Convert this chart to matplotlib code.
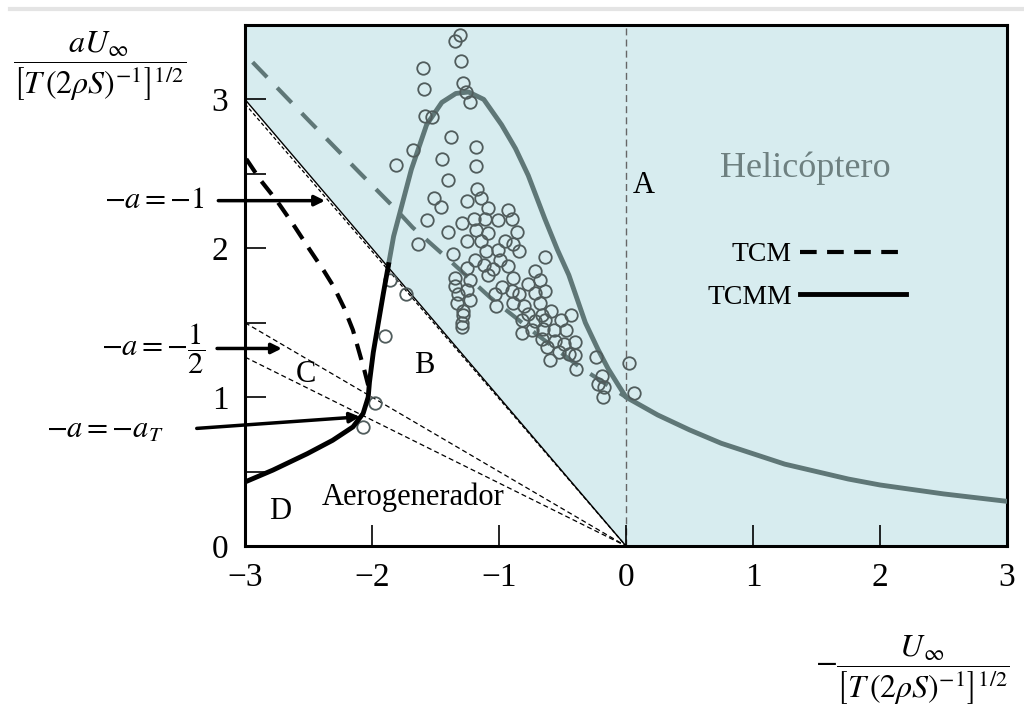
import matplotlib.pyplot as plt
from matplotlib.lines import Line2D
import numpy as np

###SETTINGS###
plt.rcParams['font.family'] = ['Liberation Serif', 'DejaVu Serif']
plt.rcParams['mathtext.fontset'] = 'stix'

###DATA###
# momentum-theory curve (grey): descent branch and climb branch
x_teo = [-1.87, -1.83, -1.78, -1.69, -1.57, -1.45, -1.34, -1.24, -1.12, -0.98,
         -0.87, -0.77, -0.64, -0.54, -0.45, -0.32, -0.22, -0.14, -0.06, 0.0,
         0.25, 0.5, 0.75, 1.0, 1.25, 1.5, 1.75, 2.0, 2.5, 3.0]
y_teo = [1.89, 2.08, 2.24, 2.53, 2.83, 2.98, 3.04, 3.05, 3.00, 2.83,
         2.67, 2.49, 2.20, 1.99, 1.82, 1.50, 1.32, 1.19, 1.08, 1.00,
         0.88, 0.78, 0.69, 0.62, 0.55, 0.50, 0.45, 0.41, 0.35, 0.30]

# grey dashed fit through the measurements
x_fit = [-2.94, -2.5, -2.1, -1.81, -1.68, -1.39, -1.07, -0.7, -0.36, 0.0]
y_fit = [3.25, 2.86, 2.51, 2.26, 2.14, 1.92, 1.67, 1.42, 1.20, 1.00]

# TCM (dashed) and TCMM (solid)
x_tcm = [-2.99, -2.88, -2.75, -2.62, -2.49, -2.38, -2.30, -2.22, -2.15, -2.10, -2.06, -2.03]
y_tcm = [2.60, 2.46, 2.32, 2.16, 1.99, 1.85, 1.74, 1.60, 1.45, 1.30, 1.18, 1.08]
x_tcmm = [-3.0, -2.78, -2.51, -2.31, -2.15, -2.07, -2.03, -2.02, -1.99, -1.95, -1.91, -1.87]
y_tcmm = [0.43, 0.51, 0.62, 0.71, 0.80, 0.89, 1.00, 1.10, 1.30, 1.50, 1.70, 1.89]

# measurements
x_exp = [-1.31, -1.35, -1.30, -1.60, -1.59, -1.28, -1.26, -1.23, -1.58, -1.53,
         -1.38, -1.18, -1.68, -1.45, -1.18, -1.81, -1.40, -1.17, -1.51, -1.14,
         -1.25, -1.46, -1.09, -0.93, -1.57, -1.20, -1.11, -0.90, -1.01, -1.29,
         -1.40, -1.25, -1.18, -1.09, -0.95, -0.86, -0.89, -1.14, -1.64, -0.84,
         -1.10, -1.01, -1.19, -1.36, -0.99, -0.64, -1.12, -1.25, -0.93, -1.05,
         -0.72, -1.09, -0.89, -1.35, -1.23, -0.77, -0.68, -0.98, -1.35, -1.25,
         -0.90, -0.64, -0.84, -1.03, -0.72, -1.32, -1.23, -0.68, -0.89, -1.33,
         -1.02, -0.80, -0.59, -1.28, -0.77, -0.43, -0.66, -1.28, -0.82, -0.51,
         -0.72, -1.29, -0.64, -1.29, -0.82, -0.74, -0.65, -0.57, -0.47, -0.40,
         -0.49, -0.56, -0.62, -0.66, -0.53, -0.45, -0.40, -0.60, -0.24, -0.39,
         0.02, -0.19, -0.22, -0.17, -0.18, 0.06, -1.90, -1.98, -2.07, -1.86,
         -1.73]
y_exp = [3.43, 3.39, 3.26, 3.21, 3.07, 3.11, 3.05, 2.98, 2.89, 2.88,
         2.75, 2.68, 2.66, 2.60, 2.55, 2.56, 2.46, 2.40, 2.34, 2.34,
         2.32, 2.28, 2.27, 2.26, 2.19, 2.20, 2.20, 2.20, 2.19, 2.17,
         2.11, 2.05, 2.12, 2.10, 2.05, 2.11, 2.03, 2.05, 2.03, 1.98,
         1.98, 1.99, 1.92, 1.96, 1.92, 1.94, 1.89, 1.87, 1.88, 1.86,
         1.85, 1.82, 1.80, 1.80, 1.79, 1.76, 1.79, 1.74, 1.75, 1.72,
         1.71, 1.71, 1.69, 1.69, 1.70, 1.69, 1.65, 1.63, 1.63, 1.63,
         1.61, 1.61, 1.58, 1.58, 1.56, 1.55, 1.55, 1.55, 1.52, 1.52,
         1.51, 1.50, 1.52, 1.47, 1.43, 1.45, 1.46, 1.45, 1.45, 1.37,
         1.36, 1.38, 1.34, 1.39, 1.30, 1.29, 1.28, 1.25, 1.27, 1.19,
         1.23, 1.14, 1.09, 1.07, 1.00, 1.03, 1.41, 0.96, 0.80, 1.79,
         1.69]

# straight rays -a = -1, -1/2 and -a_T through the origin
x_ray = np.array([-3.0, 0.0])
slopes = [1.0, 0.5, 0.423]

###PLOT###
fig = plt.figure(figsize=(10.24, 7.2), dpi=100)
ax = fig.add_axes([245/1024, 1-546/720, 762/1024, 521/720])
ax.set_xlim(-3, 3)
ax.set_ylim(0, 3.5)

azul = '#d7ecef'
gris = '#5f7777'
ax.fill_between(x_ray, -x_ray, 3.5, color=azul, lw=0, zorder=0)
ax.axvspan(0, 3, color=azul, lw=0, zorder=0)

ax.plot(x_ray, -slopes[0]*x_ray, color='k', lw=1.0, zorder=2)
ax.plot(x_ray, -0.99*slopes[0]*x_ray, color='k', lw=0.9, ls=(0, (3, 2)), zorder=2)
ax.plot(x_ray, -slopes[1]*x_ray, color='k', lw=0.9, ls=(0, (4, 2.5)), zorder=2)
ax.plot(x_ray, -slopes[2]*x_ray, color='k', lw=0.9, ls=(0, (4, 2.5)), zorder=2)
ax.axvline(0, color='#666666', lw=1.0, ls=(0, (5, 3)), zorder=1)

ax.plot(x_fit, y_fit, color=gris, lw=3, ls=(0, (5, 3.5)), zorder=3)
ax.plot(x_teo, y_teo, color=gris, lw=3.5, zorder=4)
ax.plot(x_exp, y_exp, 'o', ms=9, mfc='none', mec='#505c5c', mew=1.3, zorder=5)
ax.plot(x_tcm, y_tcm, color='k', lw=3, ls=(0, (4, 2.5)), zorder=6)
ax.plot(x_tcmm, y_tcmm, color='k', lw=3.5, zorder=6)

# arrows for the rays
flecha = dict(arrowstyle='-|>', color='k', lw=2.5, mutation_scale=15, shrinkA=0, shrinkB=0)
ax.annotate('', xy=(-2.37, 2.32), xytext=(-3.21, 2.32), arrowprops=flecha, annotation_clip=False)
ax.annotate('', xy=(-2.71, 1.327), xytext=(-3.22, 1.327), arrowprops=flecha, annotation_clip=False)
ax.annotate('', xy=(-2.094, 0.868), xytext=(-3.38, 0.79), arrowprops=flecha, annotation_clip=False)
ax.text(-3.315, 2.32, r'$-a=-1$', fontsize=22, ha='right', va='center', clip_on=False)
ax.text(-3.315, 1.327, r'$-a=-\dfrac{1}{2}$', fontsize=22, ha='right', va='center', clip_on=False)
ax.text(-3.64, 0.78, r'$-a=-a_T$', fontsize=22, ha='right', va='center', clip_on=False)

# region labels
ax.text(0.14, 2.42, 'A', fontsize=22, ha='center', va='center')
ax.text(-1.59, 1.21, 'B', fontsize=22, ha='center', va='center')
ax.text(-2.52, 1.15, 'C', fontsize=22, ha='center', va='center')
ax.text(-2.72, 0.23, 'D', fontsize=22, ha='center', va='center')
ax.text(-1.68, 0.33, 'Aerogenerador', fontsize=22, ha='center', va='center')
ax.text(1.41, 2.54, 'Helicóptero', fontsize=26, ha='center', va='center', color='#6e8080')

manejadores = [Line2D([], [], color='k', lw=3, ls=(0, (4, 2.5))),
               Line2D([], [], color='k', lw=3.5)]
ax.legend(manejadores, ['TCM', 'TCMM'], loc='center left', bbox_to_anchor=(0.677, 0.617),
          bbox_transform=fig.transFigure, frameon=False, markerfirst=False, fontsize=20,
          handlelength=3.8, handletextpad=0.3, labelspacing=0.6, borderpad=0)

# axes and ticks
ax.set_xticks([-3, -2, -1, 0, 1, 2, 3])
ax.set_yticks([0, 1, 2, 3])
ax.set_yticks([0.5, 1.5, 2.5], minor=True)
ax.tick_params(direction='in', length=15, width=1.2, labelsize=24, pad=12)
ax.tick_params(axis='y', which='minor', direction='in', length=15, width=1.2)
ax.tick_params(top=False, right=False)
for s in ax.spines.values():
    s.set_linewidth(2.2)

fig.text(100/1024, 1-66/720, r'$\dfrac{aU_{\infty}}{\left[T\,(2\rho S)^{-1}\right]^{1/2}}$',
         fontsize=23, ha='center', va='center')
fig.text(912/1024, 1-670/720, r'$-\dfrac{U_{\infty}}{\left[T\,(2\rho S)^{-1}\right]^{1/2}}$',
         fontsize=23, ha='center', va='center')

fig.add_artist(Line2D([0.01, 1.0], [0.988, 0.988], color='#e4e4e4', lw=3))

plt.savefig('out.png', dpi=100)
